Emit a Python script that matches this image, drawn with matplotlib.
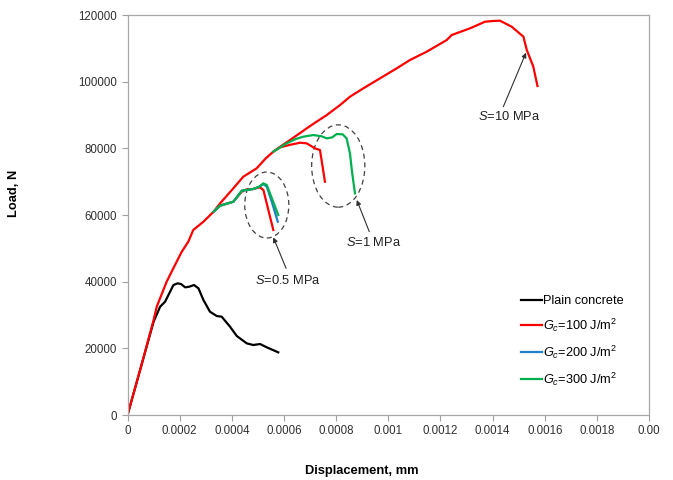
import matplotlib
matplotlib.use("Agg")
import matplotlib.pyplot as plt
from matplotlib.patches import Ellipse

plt.rcParams['font.family'] = ['Liberation Sans', 'DejaVu Sans']
plt.rcParams['mathtext.fontset'] = 'custom'
plt.rcParams['mathtext.rm'] = 'Liberation Sans'
plt.rcParams['mathtext.it'] = 'Liberation Sans:italic'

# plain concrete
plain_x = [0, 0.00005, 0.0001, 0.000125, 0.000144, 0.00016, 0.000176, 0.000192, 0.000205,
           0.000221, 0.000237, 0.000255, 0.000272, 0.000291, 0.000316, 0.000342, 0.000361,
           0.000393, 0.000419, 0.000457, 0.000482, 0.000508, 0.000534, 0.000578]
plain_y = [0, 14000, 28000, 32500, 34000, 36500, 39000, 39500, 39300, 38300, 38500, 39000,
           38000, 34500, 31000, 29700, 29500, 26500, 23700, 21500, 21000, 21300, 20300, 18800]

# S = 10 MPa, Gc = 100
s10_x = [0, 0.00005, 0.0001, 0.000112, 0.00015, 0.000182, 0.000208, 0.000233, 0.000252,
         0.000291, 0.00033, 0.000355, 0.0004, 0.000444, 0.000495, 0.00053, 0.000559, 0.000595,
         0.000623, 0.00066, 0.000687, 0.000725, 0.000764, 0.000815, 0.000853, 0.000904,
         0.000968, 0.001032, 0.001083, 0.001147, 0.001224, 0.001243, 0.001313, 0.001371,
         0.0014, 0.001428, 0.001473, 0.001518, 0.001531, 0.001556, 0.001572]
s10_y = [0, 14000, 28500, 32500, 40000, 45000, 49000, 52000, 55500, 58000, 61000, 63500,
         67500, 71500, 74000, 77000, 79000, 81000, 82500, 84500, 86000, 88000, 90000, 93000,
         95500, 98000, 101000, 104000, 106500, 109000, 112500, 114000, 116000, 118000,
         118200, 118300, 116500, 113500, 109500, 104500, 98700]

# S = 0.5 MPa
s05_red_x = [0.00033, 0.000355, 0.000406, 0.000438, 0.000457, 0.00048, 0.000508, 0.000521, 0.00054, 0.000559]
s05_red_y = [61000, 62800, 64000, 67000, 67700, 67800, 68300, 67500, 61500, 55500]
s05_blue_x = [0.00033, 0.000355, 0.000406, 0.000438, 0.000482, 0.000505, 0.000521, 0.000534, 0.000555, 0.000576]
s05_blue_y = [61000, 62800, 64000, 67300, 67800, 68500, 69300, 68500, 63500, 58000]
s05_green_x = [0.00033, 0.000355, 0.000406, 0.000438, 0.000482, 0.000505, 0.000521, 0.000534, 0.000556, 0.000578]
s05_green_y = [61000, 62800, 64000, 67300, 67800, 68500, 69500, 69000, 64500, 60000]

# S = 1 MPa
s1_red_x = [0.000559, 0.000585, 0.00062, 0.000662, 0.000687, 0.000719, 0.000738, 0.000747, 0.000757]
s1_red_y = [79000, 80300, 81000, 81700, 81500, 80000, 79500, 75000, 70000]
s1_green_x = [0.000559, 0.00061, 0.000645, 0.000674, 0.000713, 0.000745, 0.000764, 0.000785,
              0.000802, 0.000825, 0.00084, 0.000853, 0.00086, 0.000872]
s1_green_y = [79000, 81500, 82800, 83500, 84000, 83600, 83000, 83300, 84300, 84200, 83000,
              78500, 73500, 66500]

x_ticks = [0, 0.0002, 0.0004, 0.0006, 0.0008, 0.001, 0.0012, 0.0014, 0.0016, 0.0018, 0.002]
x_tick_labels = ['0', '0.0002', '0.0004', '0.0006', '0.0008', '0.001', '0.0012', '0.0014',
                 '0.0016', '0.0018', '0.00']
y_ticks = [0, 20000, 40000, 60000, 80000, 100000, 120000]

RED = '#ff0000'
BLUE = '#1f7fc8'
GREEN = '#00b050'
lw = 1.6

fig = plt.figure(figsize=(6.73, 4.8), dpi=100)
ax = fig.add_axes([0.1895, 0.1354, 0.775, 0.8333])

ax.plot(plain_x, plain_y, color='black', lw=lw, label='Plain concrete')
ax.plot(s10_x, s10_y, color=RED, lw=lw, label=r'$G_c$=100 J/m$^2$')
ax.plot(s05_red_x, s05_red_y, color=RED, lw=lw)
ax.plot(s1_red_x, s1_red_y, color=RED, lw=lw)
ax.plot(s05_blue_x, s05_blue_y, color=BLUE, lw=lw, label=r'$G_c$=200 J/m$^2$')
ax.plot(s05_green_x, s05_green_y, color=GREEN, lw=lw, label=r'$G_c$=300 J/m$^2$')
ax.plot(s1_green_x, s1_green_y, color=GREEN, lw=lw)

# dashed circles round the failure groups
for cx, cy, w, h in [(0.000534, 63000, 0.000169, 19800), (0.000808, 74700, 0.000204, 24700)]:
    ax.add_patch(Ellipse((cx, cy), w, h, fill=False, ls=(0, (4, 3)), lw=0.9, ec='#404040'))

arrow = dict(arrowstyle='-|>', color='#303030', lw=0.8, mutation_scale=7, shrinkA=0, shrinkB=0)
ann_fs = 9.3
ax.annotate('', xy=(0.000559, 53300), xytext=(0.000608, 44000), arrowprops=arrow)
ax.text(0.000616, 40300, r'$S$=0.5 MPa', ha='center', va='center', fontsize=ann_fs, color='#202020')
ax.annotate('', xy=(0.000879, 64500), xytext=(0.000927, 55000), arrowprops=arrow)
ax.text(0.000943, 51700, r'$S$=1 MPa', ha='center', va='center', fontsize=ann_fs, color='#202020')
ax.annotate('', xy=(0.001528, 108700), xytext=(0.001441, 92500), arrowprops=arrow)
ax.text(0.001463, 89700, r'$S$=10 MPa', ha='center', va='center', fontsize=ann_fs, color='#202020')

ax.set_xlim(0, 0.002)
ax.set_ylim(0, 120000)
ax.set_xticks(x_ticks)
ax.set_xticklabels(x_tick_labels)
ax.set_yticks(y_ticks)
ax.tick_params(labelsize=8.3, colors='#a0a0a0', labelcolor='#303030', length=4, width=0.8)
for sp in ax.spines.values():
    sp.set_color('#a8a8a8')
    sp.set_linewidth(0.9)

ax.set_xlabel('Displacement, mm', fontsize=9.3, fontweight='bold')
ax.xaxis.set_label_coords(0.45, -0.125)
ax.set_ylabel('Load, N', fontsize=9.3, fontweight='bold')
ax.yaxis.set_label_coords(-0.207, 0.555)

ax.legend(loc='upper left', bbox_to_anchor=(0.755, 0.300), frameon=False, fontsize=9.2,
          handlelength=1.6, handletextpad=0.1, labelspacing=0.75, borderpad=0, borderaxespad=0)

fig.savefig('out.png', dpi=100)
